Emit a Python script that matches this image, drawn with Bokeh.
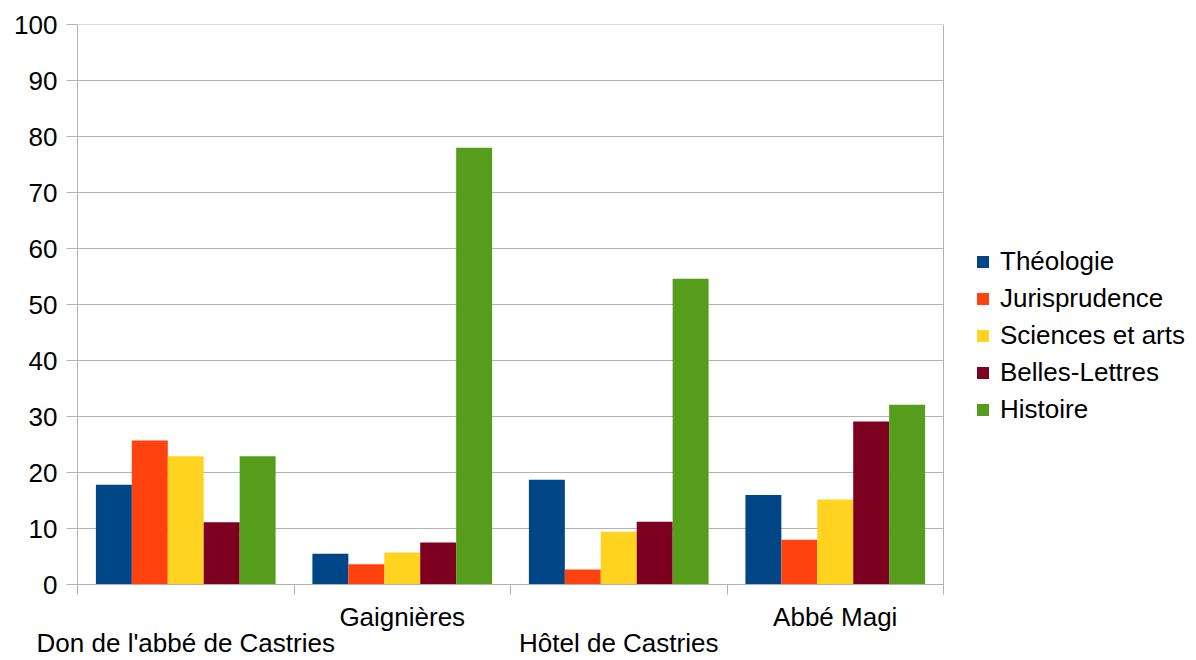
from bokeh.plotting import figure
from bokeh.models import (FixedTicker, LinearAxis, Legend, LegendItem, Range1d)
from bokeh.embed import file_html
from bokeh.resources import INLINE

categories = ["Don de l'abbé de Castries", "Gaignières", "Hôtel de Castries", "Abbé Magi"]
series = ["Théologie", "Jurisprudence", "Sciences et arts", "Belles-Lettres", "Histoire"]
theologie = [17.8, 5.5, 18.7, 16.0]
jurisprudence = [25.7, 3.6, 2.7, 8.0]
sciences_arts = [22.9, 5.7, 9.4, 15.2]
belles_lettres = [11.1, 7.5, 11.2, 29.1]
histoire = [22.9, 78.0, 54.6, 32.1]
y_ticks = [0, 10, 20, 30, 40, 50, 60, 70, 80, 90, 100]

colors = ["#004586", "#ff420e", "#ffd320", "#7e0021", "#579d1c"]
data = [theologie, jurisprudence, sciences_arts, belles_lettres, histoire]

FONT = "Liberation Sans"
FS = "26px"
GRID = "#b3b3b3"

W, H = 1196, 660
LEFT, TOP, BOTTOM = 77, 24, 76
CAT_PX = 216.5  # pixel width of one category slot
ncat = len(categories)
x_end = (W - LEFT) / CAT_PX  # frame extends under the legend area

p = figure(width=W, height=H, output_backend="svg", toolbar_location=None,
           x_range=Range1d(0, x_end), y_range=Range1d(0, 100),
           min_border_left=LEFT, min_border_right=0, min_border_top=TOP,
           min_border_bottom=BOTTOM)
p.outline_line_color = None
p.background_fill_color = "white"
p.border_fill_color = "white"
p.xgrid.visible = False
p.ygrid.visible = False

# horizontal grid lines and right border, limited to the category area
p.segment(x0=[0] * len(y_ticks), x1=[ncat] * len(y_ticks), y0=y_ticks, y1=y_ticks,
          line_color=GRID, line_width=1)
p.segment(x0=[ncat], x1=[ncat], y0=[0], y1=[100], line_color=GRID, line_width=1)

bw = 0.166
items = []
for j, (name, vals) in enumerate(zip(series, data)):
    xs = [i + 0.5 + (j - 2) * bw for i in range(ncat)]
    r = p.vbar(x=xs, top=vals, width=bw, fill_color=colors[j], line_color=None)
    items.append(LegendItem(label=name, renderers=[r]))

# y axis
ya = p.yaxis[0]
ya.ticker = FixedTicker(ticks=y_ticks)
ya.axis_line_color = GRID
ya.major_tick_line_color = GRID
ya.major_tick_out = 11
ya.major_tick_in = 0
ya.minor_tick_line_color = None
ya.major_label_standoff = 9
ya.major_label_text_font = FONT
ya.major_label_text_font_size = FS
ya.major_label_text_color = "black"

# main x axis: boundary ticks only
xa = p.xaxis[0]
xa.bounds = (0, ncat)
xa.ticker = FixedTicker(ticks=list(range(ncat + 1)))
xa.major_label_overrides = {i: "" for i in range(ncat + 1)}
xa.axis_line_color = GRID
xa.major_tick_line_color = GRID
xa.major_tick_out = 10
xa.major_tick_in = 0
xa.minor_tick_line_color = None
xa.major_label_standoff = 0
xa.major_label_text_font_size = "1px"

def label_axis(idxs, standoff):
    ticks = [i + 0.5 for i in idxs]
    ax = LinearAxis(ticker=FixedTicker(ticks=ticks),
                    major_label_overrides={t: categories[i] for t, i in zip(ticks, idxs)})
    ax.axis_line_color = None
    ax.major_tick_line_color = None
    ax.minor_tick_line_color = None
    ax.major_tick_out = 0
    ax.major_tick_in = 0
    ax.major_label_standoff = standoff
    ax.major_label_text_font = FONT
    ax.major_label_text_font_size = FS
    ax.major_label_text_color = "black"
    p.add_layout(ax, "below")

label_axis([1, 3], 7)
label_axis([0, 2], -7)

legend = Legend(items=items, location=(898, 159))
legend.label_text_font = FONT
legend.label_text_font_size = FS
legend.label_text_color = "black"
legend.glyph_width = 15
legend.glyph_height = 15
legend.label_standoff = 10
legend.spacing = 6
legend.padding = 0
legend.margin = 0
legend.border_line_color = None
legend.background_fill_alpha = 0
p.add_layout(legend)

open("out.html", "w").write(file_html(p, INLINE))
